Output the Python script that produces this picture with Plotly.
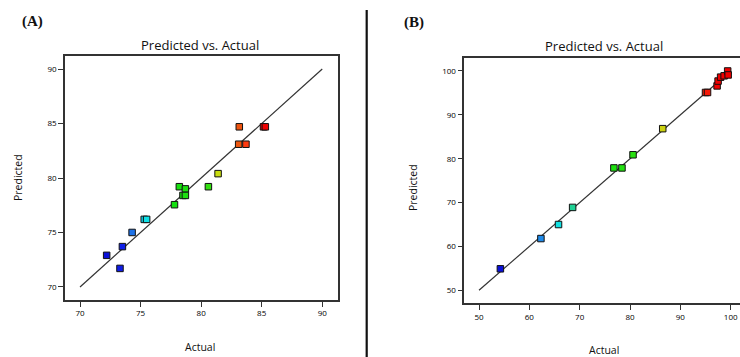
import plotly.graph_objects as go

# ---------------- data ----------------
# Panel A
actual_a = [72.2, 73.3, 73.5, 74.3, 75.3, 75.5, 77.8, 78.2, 78.5, 78.7, 78.7,
            80.6, 81.4, 83.1, 83.15, 83.7, 85.15, 85.3]
predicted_a = [72.9, 71.7, 73.7, 75.0, 76.2, 76.2, 77.55, 79.2, 78.4, 79.0, 78.4,
               79.2, 80.4, 83.1, 84.7, 83.1, 84.7, 84.7]
ref_a = [70, 90]
ticks_a = [70, 75, 80, 85, 90]

# Panel B
actual_b = [54.25, 62.3, 65.8, 68.6, 76.8, 78.4, 80.6, 86.5, 95.0, 95.4,
            97.3, 97.5, 98.0, 98.7, 99.4, 99.5]
predicted_b = [54.9, 61.8, 65.0, 68.9, 77.9, 77.9, 80.9, 86.85, 95.1, 95.1,
               96.6, 97.7, 98.6, 98.9, 100.0, 99.1]
ref_b = [50, 100]
ticks_b = [50, 60, 70, 80, 90, 100]

# colour scale (Design-Expert style, coloured by actual value)
de_scale = [
    [0.0, "#0a10d8"], [0.10, "#1020e8"], [0.17, "#1f7fe8"], [0.25, "#10e0e8"],
    [0.32, "#20d090"], [0.40, "#10e010"], [0.64, "#30e010"], [0.70, "#c8e010"],
    [0.80, "#e06a10"], [0.88, "#ff3a10"], [0.93, "#f00000"], [1.0, "#f00000"],
]

fig = go.Figure()

line_style = dict(color="#333333", width=1.2)
marker_common = dict(symbol="square", size=6.5, colorscale=de_scale,
                     line=dict(color="#111111", width=1), showscale=False)

# Panel A
fig.add_trace(go.Scatter(x=ref_a, y=ref_a, mode="lines", line=line_style,
                         xaxis="x", yaxis="y", hoverinfo="skip", showlegend=False))
fig.add_trace(go.Scatter(x=actual_a, y=predicted_a, mode="markers",
                         marker=dict(color=actual_a, cmin=min(actual_a), cmax=max(actual_a),
                                     **marker_common),
                         xaxis="x", yaxis="y", showlegend=False))
# Panel B
fig.add_trace(go.Scatter(x=ref_b, y=ref_b, mode="lines", line=line_style,
                         xaxis="x2", yaxis="y2", hoverinfo="skip", showlegend=False))
fig.add_trace(go.Scatter(x=actual_b, y=predicted_b, mode="markers",
                         marker=dict(color=actual_b, cmin=min(actual_b), cmax=max(actual_b),
                                     **marker_common),
                         xaxis="x2", yaxis="y2", showlegend=False))

# page body margin removed below, so figure pixels == window pixels
W, H = 740, 357


def px(x):
    return x / W


def py(y):
    return 1 - y / H


tickfont = dict(family="Open Sans, Noto Sans, sans-serif", size=8, color="#000000")
axis_common = dict(showgrid=False, zeroline=False, showline=True, linecolor="#333333",
                   linewidth=1.5, ticks="outside", ticklen=5, tickwidth=1,
                   tickcolor="#333333", tickfont=tickfont, ticklabeloverflow="allow")

fig.update_layout(
    width=W, height=H,
    margin=dict(l=0, r=0, t=0, b=0),
    paper_bgcolor="white", plot_bgcolor="white",
    xaxis=dict(domain=[px(65), px(338)], range=[68.76, 91.3], tickvals=ticks_a,
               mirror=True, anchor="y", **axis_common),
    yaxis=dict(domain=[py(300), py(56)], range=[68.8, 91.2], tickvals=ticks_a,
               mirror=True, anchor="x", **axis_common),
    xaxis2=dict(domain=[px(464.3), 1.0], range=[47.08, 101.85], tickvals=ticks_b,
                mirror=True, anchor="y2", **axis_common),
    yaxis2=dict(domain=[py(303.3), py(58)], range=[47.04, 102.96], tickvals=ticks_b,
                mirror=False, anchor="x2", **axis_common),
)

title_font = dict(family="Open Sans, Noto Sans, sans-serif", size=13, color="#111111")
label_font = dict(family="Open Sans, Noto Sans, sans-serif", size=10.5, color="#111111")
panel_font = dict(family="Liberation Serif, serif", size=15, color="#111111")


def ann(x, y, text, font, angle=0):
    fig.add_annotation(x=px(x), y=py(y), xref="paper", yref="paper", text=text,
                       showarrow=False, font=font, textangle=angle,
                       xanchor="center", yanchor="middle")


ann(32, 21, "<b>(A)</b>", panel_font)
ann(414, 22, "<b>(B)</b>", panel_font)
ann(200, 45, "Predicted vs. Actual", title_font)
ann(604, 46.5, "Predicted vs. Actual", title_font)
ann(200, 346.5, "Actual", label_font)
ann(604, 350, "Actual", label_font)
ann(18, 178, "Predicted", label_font, angle=-90)
ann(413, 188, "Predicted", label_font, angle=-90)

# separator between panels
fig.add_shape(type="line", xref="paper", yref="paper",
              x0=px(366.7), x1=px(366.7), y0=0, y1=py(10),
              line=dict(color="#111111", width=2.2))

fig.write_html(
    "out.html",
    config={"displayModeBar": False},
    post_script="document.body.style.margin='0';document.body.style.overflow='hidden';",
)
